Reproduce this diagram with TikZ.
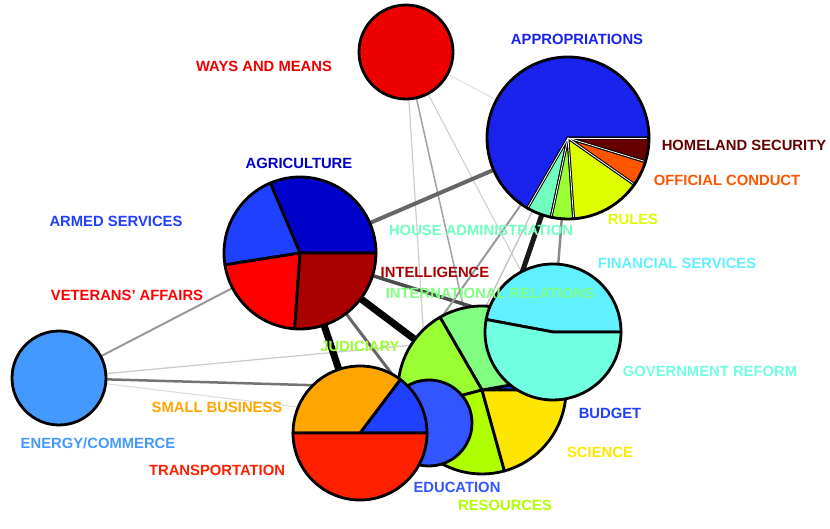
\documentclass[tikz,border=0pt]{standalone}
\usepackage{fontspec}
\setmainfont{Liberation Sans}
\usepackage{xcolor}

\definecolor{waysmeans}{HTML}{EE0000}
\definecolor{approp}{HTML}{1A22EE}
\definecolor{agri}{HTML}{0000CC}
\definecolor{armed}{HTML}{2040FF}
\definecolor{veterans}{HTML}{FF0000}
\definecolor{intel}{HTML}{AA0000}
\definecolor{homeland}{HTML}{660000}
\definecolor{conduct}{HTML}{FF5500}
\definecolor{rules}{HTML}{DDFF00}
\definecolor{houseadm}{HTML}{70FFC0}
\definecolor{finserv}{HTML}{60F0FF}
\definecolor{intrel}{HTML}{80FF80}
\definecolor{judic}{HTML}{99FF33}
\definecolor{govref}{HTML}{70FFE0}
\definecolor{smallbiz}{HTML}{FFA500}
\definecolor{budget}{HTML}{2040FF}
\definecolor{energy}{HTML}{4499FF}
\definecolor{science}{HTML}{FFE600}
\definecolor{transp}{HTML}{FF2000}
\definecolor{educ}{HTML}{3355FF}
\definecolor{resources}{HTML}{B0FF00}

% centre, start, end, radius, colour
\newcommand{\pieslice}[5]{%
  \filldraw[fill=#5, draw=black, line width=2.8pt] (#1) -- +(#2:#4) arc[start angle=#2, end angle=#3, radius=#4] -- cycle;}

\begin{document}
\begin{tikzpicture}[x=1pt, y=1pt, line join=round,
  lbl/.style={font=\fontsize{14.8}{16}\selectfont\bfseries, inner sep=0pt, text height=10.6pt, text depth=0pt}]
\useasboundingbox (0,0) rectangle (830,529);

%centres
\coordinate (waysmeans) at (406,477);
\coordinate (approp) at (568,391);
\coordinate (agri) at (300,276);
\coordinate (energy) at (59,151);
\coordinate (judic) at (482,139);
\coordinate (govref) at (553,197);
\coordinate (educ) at (429,106);
\coordinate (transp) at (360,96);

%links
\draw[line width=2pt, black!40] (energy) -- (agri);
\draw[line width=1.3pt, black!20] (energy) -- (govref);
\draw[line width=2.5pt, black!55] (energy) -- (judic);
\draw[line width=1.2pt, black!13] (energy) -- (educ);
\draw[line width=1.2pt, black!20] (waysmeans) -- (educ);
\draw[line width=1.6pt, black!35] (waysmeans) -- (judic);
\draw[line width=1pt, black!20] (waysmeans) -- (govref);
\draw[line width=1pt, black!12] (waysmeans) -- (approp);
\draw[line width=4pt, black!60] (agri) -- (approp);
\draw[line width=3.5pt, black!70] (agri) -- (govref);
\draw[line width=3pt, black!60] (agri) -- (educ);
\draw[line width=7pt, black] (agri) -- (judic);
\draw[line width=7pt, black] (agri) -- (transp);
\draw[line width=5pt, black!90] (approp) -- (judic);
\draw[line width=2.5pt, black!45] (approp) -- (govref);
\draw[line width=2pt, black!40] (approp) -- (transp);
\draw[line width=1.3pt, black!25] (approp) -- (educ);

%pies
\filldraw[fill=waysmeans, draw=black, line width=2.8pt] (waysmeans) circle[radius=47];
\pieslice{approp}{0}{240}{81}{approp}
\pieslice{approp}{240}{258}{81}{houseadm}
\pieslice{approp}{258}{274}{81}{judic}
\pieslice{approp}{274}{325}{81}{rules}
\pieslice{approp}{325}{343}{81}{conduct}
\pieslice{approp}{343}{360}{81}{homeland}
\foreach \a in {0,240,258,274,325,343}
  \draw[white, line width=0.8pt] (approp) -- +(\a:79.4);
\pieslice{agri}{0}{113}{76}{agri}
\pieslice{agri}{113}{189}{76}{armed}
\pieslice{agri}{189}{266}{76}{veterans}
\pieslice{agri}{266}{360}{76}{intel}
\filldraw[fill=energy, draw=black, line width=2.8pt] (energy) circle[radius=47];
\pieslice{judic}{0}{10}{84}{budget}
\pieslice{judic}{10}{120}{84}{intrel}
\pieslice{judic}{120}{195}{84}{judic}
\pieslice{judic}{195}{285.5}{84}{resources}
\pieslice{judic}{285.5}{360}{84}{science}
\pieslice{govref}{0}{169.4}{68}{finserv}
\pieslice{govref}{169.4}{360}{68}{govref}
\filldraw[fill=educ, draw=black, line width=2.8pt] (educ) circle[radius=43];
\pieslice{transp}{0}{53}{67}{budget}
\pieslice{transp}{53}{180}{67}{smallbiz}
\pieslice{transp}{180}{360}{67}{transp}

%labels
\node[lbl, text=waysmeans] (l-waysmeans) at (264,463) {WAYS AND MEANS};
\node[lbl, text=approp] (l-approp) at (577,490) {APPROPRIATIONS};
\node[lbl, text=agri] (l-agri) at (299,366) {AGRICULTURE};
\node[lbl, text=homeland] (l-homeland) at (744,384) {HOMELAND SECURITY};
\node[lbl, text=conduct] (l-conduct) at (727,349) {OFFICIAL CONDUCT};
\node[lbl, text=armed] (l-armed) at (116,308) {ARMED SERVICES};
\node[lbl, text=rules] (l-rules) at (633,310) {RULES};
\node[lbl, text=houseadm] (l-houseadm) at (481,299) {HOUSE ADMINISTRATION};
\node[lbl, text=finserv] (l-finserv) at (677,266) {FINANCIAL SERVICES};
\node[lbl, text=intel] (l-intel) at (435,257) {INTELLIGENCE};
\node[lbl, text=veterans] (l-veterans) at (127,234) {VETERANS’ AFFAIRS};
\node[lbl, text=intrel] (l-intrel) at (490,236) {INTERNATIONAL RELATIONS};
\node[lbl, text=judic] (l-judic) at (360,183) {JUDICIARY};
\node[lbl, text=govref] (l-govref) at (710,158) {GOVERNMENT REFORM};
\node[lbl, text=smallbiz] (l-smallbiz) at (217,122) {SMALL BUSINESS};
\node[lbl, text=budget] (l-budget) at (610,116) {BUDGET};
\node[lbl, text=energy] (l-energy) at (98,86) {ENERGY/COMMERCE};
\node[lbl, text=science] (l-science) at (600,77) {SCIENCE};
\node[lbl, text=transp] (l-transp) at (217,59) {TRANSPORTATION};
\node[lbl, text=educ] (l-educ) at (457,42) {EDUCATION};
\node[lbl, text=resources] (l-resources) at (505,24) {RESOURCES};
\end{tikzpicture}
\end{document}
